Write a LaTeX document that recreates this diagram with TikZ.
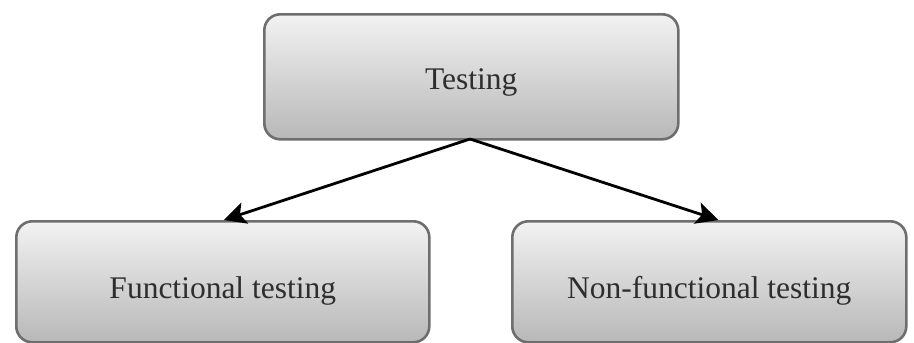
\documentclass[tikz,border=0pt]{standalone}
\usepackage{fontspec}
\setmainfont{Liberation Serif}
\usetikzlibrary{arrows.meta}
\definecolor{boxline}{HTML}{6E6E6E}
\definecolor{boxtop}{HTML}{F2F2F2}
\definecolor{boxbot}{HTML}{B8B8B8}
\definecolor{txt}{HTML}{2E2E2E}
\tikzset{
  tbox/.style={draw=boxline, line width=2.6pt, rounded corners=16pt,
    top color=boxtop, bottom color=boxbot, text=txt,
    font=\fontsize{31.5}{36}\selectfont, inner sep=0pt, anchor=north west,
    text depth=0pt},
  conn/.style={draw=black, line width=2.8pt, -{Stealth[length=22pt,width=22pt,inset=5pt]}}
}
\begin{document}
\begin{tikzpicture}[x=1pt,y=-1pt]
\useasboundingbox (0,0) rectangle (914,343);
\node[tbox, minimum width=414pt, minimum height=125pt, text height=25pt] (top) at (263,13) {Testing};
\node[tbox, minimum width=413pt, minimum height=121pt, text height=33pt] (fun) at (15,220) {Functional testing};
\node[tbox, minimum width=394pt, minimum height=121pt, text height=33pt] (non) at (511,220) {Non-functional testing};
\coordinate (src) at (470,139);
\draw[conn] (src) -- ([xshift=1pt]fun.north);
\draw[conn] (src) -- ([xshift=9pt]non.north);
\end{tikzpicture}
\end{document}
